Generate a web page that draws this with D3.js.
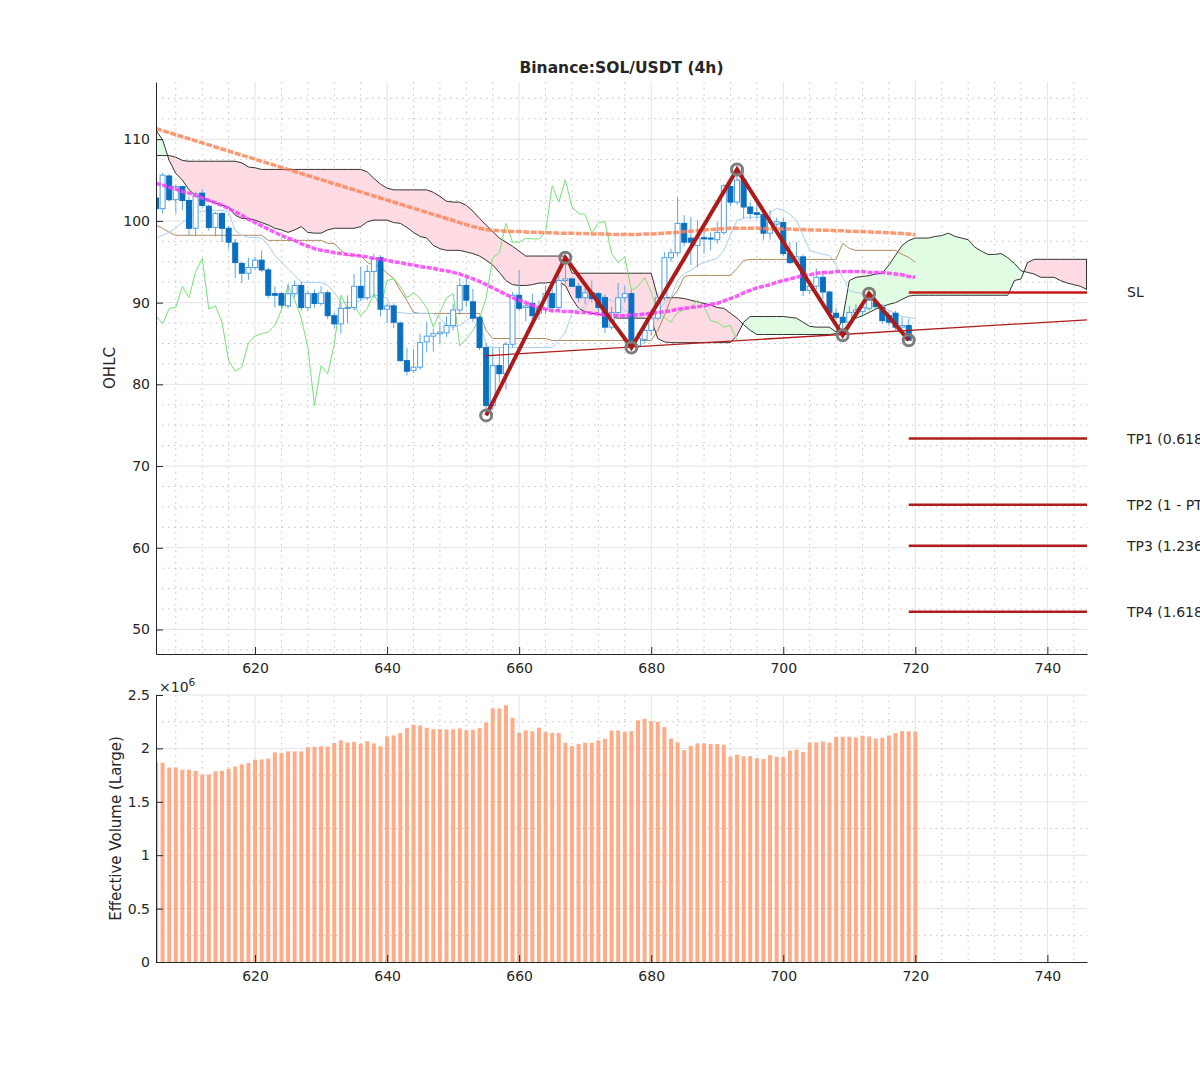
<!DOCTYPE html>
<html lang="en">
<head>
<meta charset="UTF-8">
<title>Binance:SOL/USDT (4h)</title>
<script src="https://cdn.jsdelivr.net/npm/d3@7"></script>
<style>
body { margin: 0; background: #fff; }
svg text { font-family: "DejaVu Sans", sans-serif; fill: #262626; }
</style>
</head>
<body>
<svg id="chart" width="1200" height="1080"></svg>
<script>
// ---- data (bar index 605 ... ) ----
const firstBar = 605;

const opens = [102.8,101.5,105.5,102.6,104.2,102.5,99.1,103.4,101.8,99.2,
  100.9,99.1,97.3,94.8,93.6,94.3,95.2,94.0,91.1,91.1,
  89.6,91.1,92.1,89.4,91.1,89.9,91.2,88.4,87.4,89.3,
  89.4,92.0,90.6,93.8,95.5,89.2,89.6,87.5,82.9,81.7,
  82.1,85.2,85.9,86.2,86.3,87.2,89.1,92.1,90.1,88.2,
  84.5,77.4,82.3,81.3,84.9,90.9,89.4,89.9,88.7,89.2,
  91.1,89.4,92.7,92.9,92.0,90.6,91.2,91.1,90.6,87.0,
  88.8,90.6,91.1,84.7,85.5,86.6,88.1,90.6,95.5,96.1,
  99.7,97.9,97.0,97.95,97.9,97.7,98.6,104.2,102.3,105.0,
  101.7,101.0,100.8,98.5,99.6,99.8,96.0,94.9,95.6,91.5,
  92.0,93.1,91.3,88.7,88.2,87.6,88.8,88.9,89.3,90.0,
  89.4,88.4,88.7,87.0,87.2];
const highs = [103.2,105.9,105.7,104.4,104.3,103.0,103.6,103.9,102.0,101.1,
  101.1,99.4,97.8,95.0,95.5,95.6,96.4,94.3,92.0,91.3,
  92.3,92.7,92.5,91.5,91.6,92.0,91.5,88.8,90.0,90.9,
  93.5,94.4,94.6,96.0,95.8,89.9,89.9,87.7,84.5,84.3,
  86.2,87.6,86.8,87.6,88.3,89.8,93.0,93.1,91.7,88.4,
  85.0,84.5,84.5,85.2,91.3,94.0,90.3,91.1,90.3,92.1,
  91.9,93.6,95.5,93.1,92.4,91.8,92.7,91.3,91.0,89.5,
  92.4,92.1,91.5,86.4,87.6,89.2,91.2,96.2,96.6,102.9,
  100.7,100.5,100.1,99.2,98.6,99.9,104.5,105.0,106.3,106.2,
  102.3,102.8,101.6,101.3,100.4,100.4,97.4,97.4,95.9,92.5,
  94.2,93.8,91.5,89.4,88.4,89.6,89.8,90.0,91.1,90.6,
  89.8,88.9,89.0,88.2,88.0];
const lows = [100.8,100.9,102.4,100.9,101.3,98.2,98.2,101.6,98.8,98.1,
  97.4,96.6,93.0,92.4,92.8,94.0,93.7,90.5,89.4,89.3,
  89.3,90.6,89.0,89.0,89.4,89.6,88.0,86.9,86.2,87.5,
  89.0,90.2,90.3,90.5,88.3,87.5,86.9,82.8,81.1,81.4,
  81.8,83.9,84.0,84.9,85.8,86.6,88.5,89.5,87.6,84.2,
  76.2,76.8,80.2,79.4,84.5,89.0,87.7,87.7,87.9,88.6,
  88.8,88.9,92.3,91.9,90.0,89.8,90.0,88.6,86.3,86.7,
  88.5,90.0,84.5,84.5,85.0,86.0,87.8,90.2,95.0,95.7,
  96.9,94.6,94.3,96.0,96.4,97.2,98.3,101.8,102.0,100.3,
  100.2,100.2,97.7,97.7,98.6,95.7,94.7,94.6,90.8,91.0,
  91.6,90.4,88.5,87.9,86.0,87.3,88.3,88.5,89.0,89.1,
  87.4,87.2,86.6,86.6,85.4];
const closes = [101.5,105.6,102.6,104.2,102.5,99.1,103.3,101.9,99.2,100.9,
  99.1,97.4,94.9,93.6,94.3,95.2,94.0,90.9,90.9,89.7,
  91.1,92.1,89.4,91.1,89.9,91.2,88.4,87.4,89.3,89.4,
  92.0,90.6,93.8,95.4,89.2,89.6,87.6,82.9,81.6,82.1,
  85.1,85.9,86.2,86.4,87.2,89.1,92.1,90.3,88.1,84.5,
  77.4,82.3,81.3,84.9,90.9,89.3,89.6,88.4,89.3,91.1,
  89.4,92.7,92.9,92.0,90.6,91.2,90.5,89.4,87.0,88.8,
  90.6,91.1,84.7,85.6,86.6,88.1,90.6,95.5,96.1,99.7,
  97.4,97.4,97.9,97.8,97.8,98.6,104.3,102.3,105.0,101.7,
  100.9,100.8,98.5,99.8,99.9,96.0,94.9,95.6,91.5,92.0,
  93.1,91.3,88.8,88.2,87.6,88.8,89.1,89.4,90.3,89.5,
  87.8,87.6,87.0,87.2,85.4];

// effective volume, millions (index 605 ... 720)
const volumeM = [1.872,1.866,1.82,1.82,1.80,1.80,1.79,1.754,1.757,1.785,
  1.79,1.81,1.83,1.85,1.863,1.894,1.897,1.904,1.963,1.956,
  1.972,1.972,1.972,2.012,2.015,2.02,2.018,2.05,2.075,2.056,
  2.062,2.044,2.068,2.047,2.02,2.112,2.121,2.143,2.19,2.221,
  2.215,2.193,2.18,2.18,2.178,2.178,2.187,2.171,2.174,2.19,
  2.243,2.374,2.374,2.405,2.287,2.147,2.168,2.162,2.193,2.152,
  2.147,2.143,2.053,2.022,2.041,2.053,2.053,2.075,2.09,2.168,
  2.168,2.152,2.162,2.262,2.277,2.255,2.249,2.199,2.093,2.056,
  1.984,2.022,2.047,2.047,2.041,2.041,2.034,1.922,1.941,1.925,
  1.928,1.909,1.90,1.937,1.922,1.919,1.978,1.988,1.966,2.056,
  2.056,2.065,2.053,2.109,2.109,2.109,2.103,2.118,2.112,2.093,
  2.10,2.121,2.143,2.162,2.159,2.159];

// conversion line (light blue), 605 ... 720
const tenkan = [97.87,98.24,98.60,99.09,99.83,100.44,101.05,101.18,101.30,101.30,
  101.30,101.05,98.85,98.24,97.99,97.99,97.87,97.01,95.78,94.93,
  94.19,93.33,92.48,92.48,92.48,92.48,92.11,91.25,90.02,90.02,
  90.02,90.27,90.64,90.88,90.88,90.51,88.80,88.80,88.68,88.68,
  88.68,88.68,88.68,88.06,87.21,86.96,87.21,87.82,88.43,88.06,
  84.75,84.51,84.51,84.51,84.51,84.51,84.51,84.51,84.51,84.51,
  84.51,85.37,86.35,88.80,89.29,89.41,90.88,91.13,90.64,90.27,
  89.90,89.04,88.68,88.68,88.68,88.68,89.04,89.90,90.64,92.72,
  93.58,93.95,94.56,94.93,95.17,95.42,96.40,98.24,100.07,100.32,
  100.44,100.44,100.56,101.05,101.54,101.30,100.81,100.07,98.24,96.40,
  96.15,95.91,95.78,94.56,93.09,91.50,91.25,91.13,90.64,89.90,
  89.66,89.04,88.68,88.31,88.19,88.06];

// base line (brown), 605 ... 720
const kijun = [99.46,99.09,98.60,98.24,98.24,98.24,98.24,98.24,98.24,98.24,
  98.24,98.24,98.24,98.24,98.24,98.24,98.24,97.62,97.62,97.62,
  97.62,97.62,97.62,97.62,97.62,97.62,97.25,97.25,96.40,95.78,
  95.78,95.78,94.93,94.56,94.44,93.58,92.97,91.50,90.27,88.80,
  88.68,88.68,88.68,88.68,88.68,88.68,88.68,88.68,88.68,88.68,
  86.59,85.61,85.61,85.61,85.61,85.61,85.61,85.61,85.61,85.61,
  85.37,85.37,85.37,85.37,85.37,85.37,85.37,85.37,85.37,85.37,
  85.37,85.37,85.37,85.37,85.37,85.37,86.59,88.43,90.51,91.50,
  93.21,93.33,93.33,93.33,93.33,93.33,93.33,93.33,94.19,95.17,
  95.29,95.29,95.29,95.29,95.29,95.29,95.29,95.29,95.29,95.29,
  95.29,95.29,95.29,95.29,97.25,96.64,96.40,96.40,96.40,96.40,
  96.40,96.40,96.40,95.91,95.54,94.93];

// leading spans, 605 ... 746
const spanA = [111.1,109.9,107.4,105.8,105.0,103.8,103.1,102.8,102.5,102.2,
  101.9,101.7,100.7,100.3,100.3,100.1,99.8,99.5,99.1,98.9,
  98.6,98.9,99.3,98.6,98.5,98.5,98.9,99.1,99.1,99.1,
  99.1,99.3,99.9,100.1,100.1,100.1,99.8,99.7,99.2,98.6,
  98.1,97.9,97.0,96.6,96.4,96.4,96.4,96.2,96.0,95.7,
  95.2,94.6,93.7,92.7,92.2,92.1,92.1,92.2,92.4,92.4,
  92.5,92.5,92.1,90.5,89.3,88.9,88.7,88.6,88.4,88.2,
  88.1,88.1,88.1,88.1,88.1,87.9,85.6,85.2,85.1,85.1,
  85.1,85.1,85.1,85.1,85.1,85.1,85.1,85.1,86.0,87.6,
  88.3,88.3,88.3,88.3,88.3,88.3,88.2,88.1,87.6,87.1,
  87.0,87.0,87.0,86.4,88.0,92.7,93.1,93.2,93.3,93.5,
  93.6,94.6,95.8,97.0,97.6,97.9,97.9,97.9,98.1,98.2,
  98.5,98.1,97.9,97.7,96.8,96.3,95.9,95.9,96.0,95.5,
  94.8,93.9,93.7,93.5,93.1,93.1,93.1,92.7,92.4,92.2,
  92.0,91.6];
const spanB = [108.0,108.0,108.0,107.8,107.4,107.3,107.3,107.3,107.3,107.3,
  107.3,107.3,107.3,107.1,106.6,106.5,106.3,106.3,106.3,106.3,
  106.3,106.3,106.3,106.3,106.3,106.3,106.3,106.3,106.3,106.3,
  106.3,106.3,106.0,105.2,104.5,104.0,103.8,103.8,103.8,103.8,
  103.8,103.8,103.5,103.0,102.4,102.3,102.3,101.9,101.2,100.3,
  99.5,98.7,97.9,97.4,96.9,96.3,95.7,95.7,95.7,95.7,
  95.7,95.7,95.7,93.6,93.6,93.6,93.6,93.6,93.6,93.6,
  93.6,93.6,93.6,93.6,93.6,93.6,90.6,90.6,90.6,90.6,
  90.5,90.3,90.1,89.9,89.7,89.4,89.3,88.7,88.1,87.3,
  86.6,86.1,86.1,86.1,86.1,86.1,86.1,86.1,86.1,86.1,
  86.1,86.1,86.1,86.2,86.6,87.5,88.1,88.4,88.8,89.2,
  89.5,89.8,90.0,90.4,90.8,90.9,90.9,90.9,90.9,90.9,
  90.9,90.9,90.9,90.9,90.9,90.9,90.9,90.9,90.9,90.9,
  92.7,92.9,94.9,95.3,95.3,95.3,95.3,95.3,95.3,95.3,
  95.3,95.3];

// moving averages, 605 ... 720
const maSlow = [111.3,111.05,110.8,110.55,110.3,110.05,109.8,109.55,109.3,109.05,
  108.8,108.55,108.3,108.05,107.8,107.55,107.3,107.05,106.8,106.55,
  106.3,106.05,105.8,105.55,105.3,105.05,104.8,104.55,104.3,104.05,
  103.8,103.55,103.3,103.05,102.8,102.55,102.3,102.05,101.8,101.55,
  101.3,101.05,100.8,100.55,100.3,100.05,99.8,99.55,99.3,99.1,
  98.95,98.85,98.8,98.75,98.7,98.7,98.65,98.6,98.6,98.55,
  98.55,98.5,98.5,98.5,98.45,98.45,98.4,98.4,98.4,98.35,
  98.35,98.35,98.35,98.35,98.4,98.4,98.45,98.5,98.55,98.6,
  98.7,98.75,98.8,98.9,98.95,99.0,99.05,99.1,99.1,99.1,
  99.1,99.1,99.05,99.05,99.0,99.0,99.0,98.95,98.95,98.9,
  98.9,98.85,98.85,98.8,98.8,98.75,98.7,98.7,98.65,98.6,
  98.6,98.55,98.5,98.45,98.4,98.3];
const maFast = [104.6,104.4,104.1,103.9,103.6,103.4,103.1,102.8,102.5,102.2,
  101.9,101.5,101.1,100.7,100.2,99.8,99.4,99.0,98.6,98.2,
  97.9,97.6,97.2,96.9,96.6,96.4,96.3,96.1,96.0,95.9,
  95.8,95.7,95.6,95.4,95.3,95.2,95.0,94.9,94.7,94.6,
  94.4,94.3,94.2,94.0,93.9,93.7,93.5,93.2,92.9,92.6,
  92.2,91.8,91.4,91.0,90.6,90.3,90.0,89.7,89.4,89.2,
  89.0,89.0,88.9,88.9,88.8,88.8,88.7,88.6,88.5,88.5,
  88.4,88.4,88.5,88.5,88.6,88.7,88.8,88.9,89.0,89.2,
  89.3,89.4,89.5,89.6,89.8,89.9,90.2,90.5,90.8,91.2,
  91.5,91.8,92.0,92.2,92.5,92.7,92.9,93.1,93.3,93.4,
  93.6,93.7,93.7,93.8,93.8,93.8,93.8,93.8,93.7,93.7,
  93.7,93.6,93.5,93.4,93.2,93.1];

// pattern pivots
const zzIdx = [655, 667, 677, 693, 709, 713, 719];
const zzVal = [76.2, 95.5, 84.5, 106.3, 86.0, 91.1, 85.4];
const trendIdx = [655, 746];
const trendVal = [83.5, 87.9];

// exit levels
const levelNames = ["SL", "TP1 (0.618 PT)", "TP2 (1 - PT)", "TP3 (1.236 PT)", "TP4 (1.618 PT)"];
const levelVals = [91.25, 73.36, 65.27, 60.25, 52.16];
const levelStart = 719, levelEnd = 746;

const chikouShift = 26;

// ---- layout ----
const svg = d3.select("#chart");
const plotL = 156, plotR = 1087;
const priceTop = 82, priceBot = 654;
const volTop = 695, volBot = 962;

const x = d3.scaleLinear().domain([605, 746]).range([plotL, plotR]);
const y = d3.scaleLinear().domain([47, 117]).range([priceBot, priceTop]);
const yVol = d3.scaleLinear().domain([0, 2.5]).range([volBot, volTop]);

const defs = svg.append("defs");
defs.append("clipPath").attr("id", "clipPrice").append("rect")
  .attr("x", plotL).attr("y", priceTop).attr("width", plotR - plotL).attr("height", priceBot - priceTop);
defs.append("clipPath").attr("id", "clipVol").append("rect")
  .attr("x", plotL).attr("y", volTop).attr("width", plotR - plotL).attr("height", volBot - volTop);

function drawGrid(g, yScale, xMajor, xMinor, yMajor, yMinor, top, bot) {
  g.selectAll(".vminor").data(xMinor).enter().append("line")
    .attr("x1", d => x(d)).attr("x2", d => x(d)).attr("y1", top).attr("y2", bot)
    .attr("stroke", "#c4c4c4").attr("stroke-dasharray", "1.5,4.5");
  g.selectAll(".hminor").data(yMinor).enter().append("line")
    .attr("x1", plotL).attr("x2", plotR).attr("y1", d => yScale(d)).attr("y2", d => yScale(d))
    .attr("stroke", "#c4c4c4").attr("stroke-dasharray", "1.5,4.5");
  g.selectAll(".vmajor").data(xMajor).enter().append("line")
    .attr("x1", d => x(d)).attr("x2", d => x(d)).attr("y1", top).attr("y2", bot)
    .attr("stroke", "#e3e3e3");
  g.selectAll(".hmajor").data(yMajor).enter().append("line")
    .attr("x1", plotL).attr("x2", plotR).attr("y1", d => yScale(d)).attr("y2", d => yScale(d))
    .attr("stroke", "#e3e3e3");
}

const xMajor = d3.range(620, 741, 20);
const xMinor = d3.range(608, 746, 4).filter(d => d % 20 !== 0);
drawGrid(svg.append("g"), y, xMajor, xMinor, d3.range(50, 111, 10),
  d3.range(47.5, 117, 2.5).filter(d => d % 10 !== 0), priceTop, priceBot);
drawGrid(svg.append("g"), yVol, xMajor, xMinor, [0.5, 1, 1.5, 2, 2.5],
  d3.range(0.25, 2.5, 0.25).filter(d => Math.abs(d * 2 - Math.round(d * 2)) > 0.01), volTop, volBot);

// ---- price panel ----
const pg = svg.append("g").attr("clip-path", "url(#clipPrice)");

const cloud = spanA.map((a, k) => ({ i: firstBar + k, a: a, b: spanB[k] }));
const aboveA = d3.area().x(d => x(d.i)).y0(priceTop - 5).y1(d => y(d.a));
const belowA = d3.area().x(d => x(d.i)).y0(d => y(d.a)).y1(priceBot + 5);
defs.append("clipPath").attr("id", "clipAbove").append("path").attr("d", aboveA(cloud));
defs.append("clipPath").attr("id", "clipBelow").append("path").attr("d", belowA(cloud));
const between = d3.area().x(d => x(d.i)).y0(d => y(d.a)).y1(d => y(d.b));
pg.append("path").attr("d", between(cloud)).attr("fill", "#ffdbe4").attr("clip-path", "url(#clipAbove)");
pg.append("path").attr("d", between(cloud)).attr("fill", "#e0fde3").attr("clip-path", "url(#clipBelow)");

const lineOf = (arr) => d3.line().x((d, k) => x(firstBar + k)).y(d => y(d))(arr);
pg.append("path").attr("d", lineOf(spanA)).attr("fill", "none").attr("stroke", "#333").attr("stroke-width", 1);
pg.append("path").attr("d", lineOf(spanB)).attr("fill", "none").attr("stroke", "#333").attr("stroke-width", 1);
// closing edge of the cloud at the right border
const lastCloud = cloud[cloud.length - 1];
pg.append("line").attr("x1", x(lastCloud.i) - 0.5).attr("x2", x(lastCloud.i) - 0.5)
  .attr("y1", y(lastCloud.a)).attr("y2", y(lastCloud.b)).attr("stroke", "#333");

pg.append("path").attr("d", lineOf(kijun)).attr("fill", "none").attr("stroke", "#b08a5c").attr("stroke-width", 1);
pg.append("path").attr("d", lineOf(tenkan)).attr("fill", "none").attr("stroke", "#a8cdf5").attr("stroke-width", 1);
pg.append("path").attr("d", lineOf(closes.slice(chikouShift))).attr("fill", "none")
  .attr("stroke", "#74e374").attr("stroke-width", 1);

// candles
const bars = opens.map((o, k) => ({ i: firstBar + k, o: o, h: highs[k], l: lows[k], c: closes[k] }));
const cg = pg.append("g");
cg.selectAll("line").data(bars).enter().append("line")
  .attr("x1", d => x(d.i)).attr("x2", d => x(d.i))
  .attr("y1", d => y(d.h)).attr("y2", d => y(d.l))
  .attr("stroke", "#5ea7e6").attr("stroke-width", 1);
cg.selectAll("rect").data(bars).enter().append("rect")
  .attr("x", d => x(d.i) - 2.5).attr("width", 5)
  .attr("y", d => y(Math.max(d.o, d.c)))
  .attr("height", d => Math.max(1, Math.abs(y(d.o) - y(d.c))))
  .attr("fill", d => d.c >= d.o ? "#ffffff" : "#0b6fbf")
  .attr("stroke", d => d.c >= d.o ? "#4f9ee3" : "#0b6fbf").attr("stroke-width", 1);

// moving averages
pg.append("path").attr("d", lineOf(maSlow)).attr("fill", "none")
  .attr("stroke", "#ff7f50").attr("stroke-opacity", 0.8).attr("stroke-width", 3.5)
  .attr("stroke-dasharray", "6,1.5");
pg.append("path").attr("d", lineOf(maFast)).attr("fill", "none")
  .attr("stroke", "#ff3cff").attr("stroke-opacity", 0.85).attr("stroke-width", 3.5)
  .attr("stroke-dasharray", "5,1.5");

// trend line and zigzag
pg.append("line")
  .attr("x1", x(trendIdx[0])).attr("y1", y(trendVal[0]))
  .attr("x2", x(trendIdx[1])).attr("y2", y(trendVal[1]))
  .attr("stroke", "#b01c1c").attr("stroke-width", 1.3);
const zz = zzIdx.map((d, k) => ({ i: d, v: zzVal[k] }));
pg.append("path").attr("d", d3.line().x(d => x(d.i)).y(d => y(d.v))(zz))
  .attr("fill", "none").attr("stroke", "#ad1a1a").attr("stroke-width", 4);
pg.selectAll(".pivot").data(zz).enter().append("circle")
  .attr("cx", d => x(d.i)).attr("cy", d => y(d.v)).attr("r", 5.5)
  .attr("fill", "none").attr("stroke", "#7d7d7d").attr("stroke-width", 3);

// exit levels
const levels = levelVals.map((v, k) => ({ name: levelNames[k], v: v }));
svg.selectAll(".level").data(levels).enter().append("line")
  .attr("x1", x(levelStart)).attr("x2", x(levelEnd))
  .attr("y1", d => y(d.v)).attr("y2", d => y(d.v))
  .attr("stroke", (d, k) => k === 0 ? "#c81818" : "#b01c1c").attr("stroke-width", 2.5);
svg.selectAll(".levelLabel").data(levels).enter().append("text")
  .attr("x", plotR + 40).attr("y", d => y(d.v)).attr("dy", "0.35em")
  .attr("font-size", 14).text(d => d.name);

// ---- volume panel ----
const vg = svg.append("g").attr("clip-path", "url(#clipVol)");
vg.selectAll("rect").data(volumeM).enter().append("rect")
  .attr("x", (d, k) => x(firstBar + k) - 2)
  .attr("width", 4)
  .attr("y", d => yVol(d))
  .attr("height", d => yVol(0) - yVol(d))
  .attr("fill", "#ffa47c").attr("fill-opacity", 0.9);

// ---- axes ----
function styleAxis(g) {
  g.selectAll("path.domain").attr("stroke", "#262626");
  g.selectAll(".tick line").attr("stroke", "#262626");
  g.selectAll("text").attr("font-size", 14).attr("font-family", "DejaVu Sans, sans-serif").attr("fill", "#262626");
}
svg.append("g").attr("transform", `translate(0,${priceBot})`)
  .call(d3.axisBottom(x).tickValues(xMajor).tickSizeInner(-7).tickSizeOuter(0).tickPadding(9))
  .call(styleAxis);
svg.append("g").attr("transform", `translate(${plotL},0)`)
  .call(d3.axisLeft(y).tickValues(d3.range(50, 111, 10)).tickSizeInner(-7).tickSizeOuter(0).tickPadding(6))
  .call(styleAxis);
svg.append("g").attr("transform", `translate(0,${volBot})`)
  .call(d3.axisBottom(x).tickValues(xMajor).tickSizeInner(-7).tickSizeOuter(0).tickPadding(9))
  .call(styleAxis);
svg.append("g").attr("transform", `translate(${plotL},0)`)
  .call(d3.axisLeft(yVol).tickValues([0, 0.5, 1, 1.5, 2, 2.5]).tickFormat(d => String(d))
    .tickSizeInner(-7).tickSizeOuter(0).tickPadding(6))
  .call(styleAxis);

// ---- labels ----
svg.append("text").attr("x", (plotL + plotR) / 2).attr("y", 73)
  .attr("text-anchor", "middle").attr("font-size", 15.5).attr("font-weight", "bold")
  .text("Binance:SOL/USDT (4h)");
svg.append("text").attr("transform", `translate(115,${(priceTop + priceBot) / 2}) rotate(-90)`)
  .attr("text-anchor", "middle").attr("font-size", 15).text("OHLC");
svg.append("text").attr("transform", `translate(121,${(volTop + volBot) / 2}) rotate(-90)`)
  .attr("text-anchor", "middle").attr("font-size", 15).text("Effective Volume (Large)");
const expo = svg.append("text").attr("x", plotL + 3).attr("y", 692).attr("font-size", 14);
expo.append("tspan").text("×10");
expo.append("tspan").attr("dy", -6).attr("font-size", 10.5).text("6");
</script>
</body>
</html>
